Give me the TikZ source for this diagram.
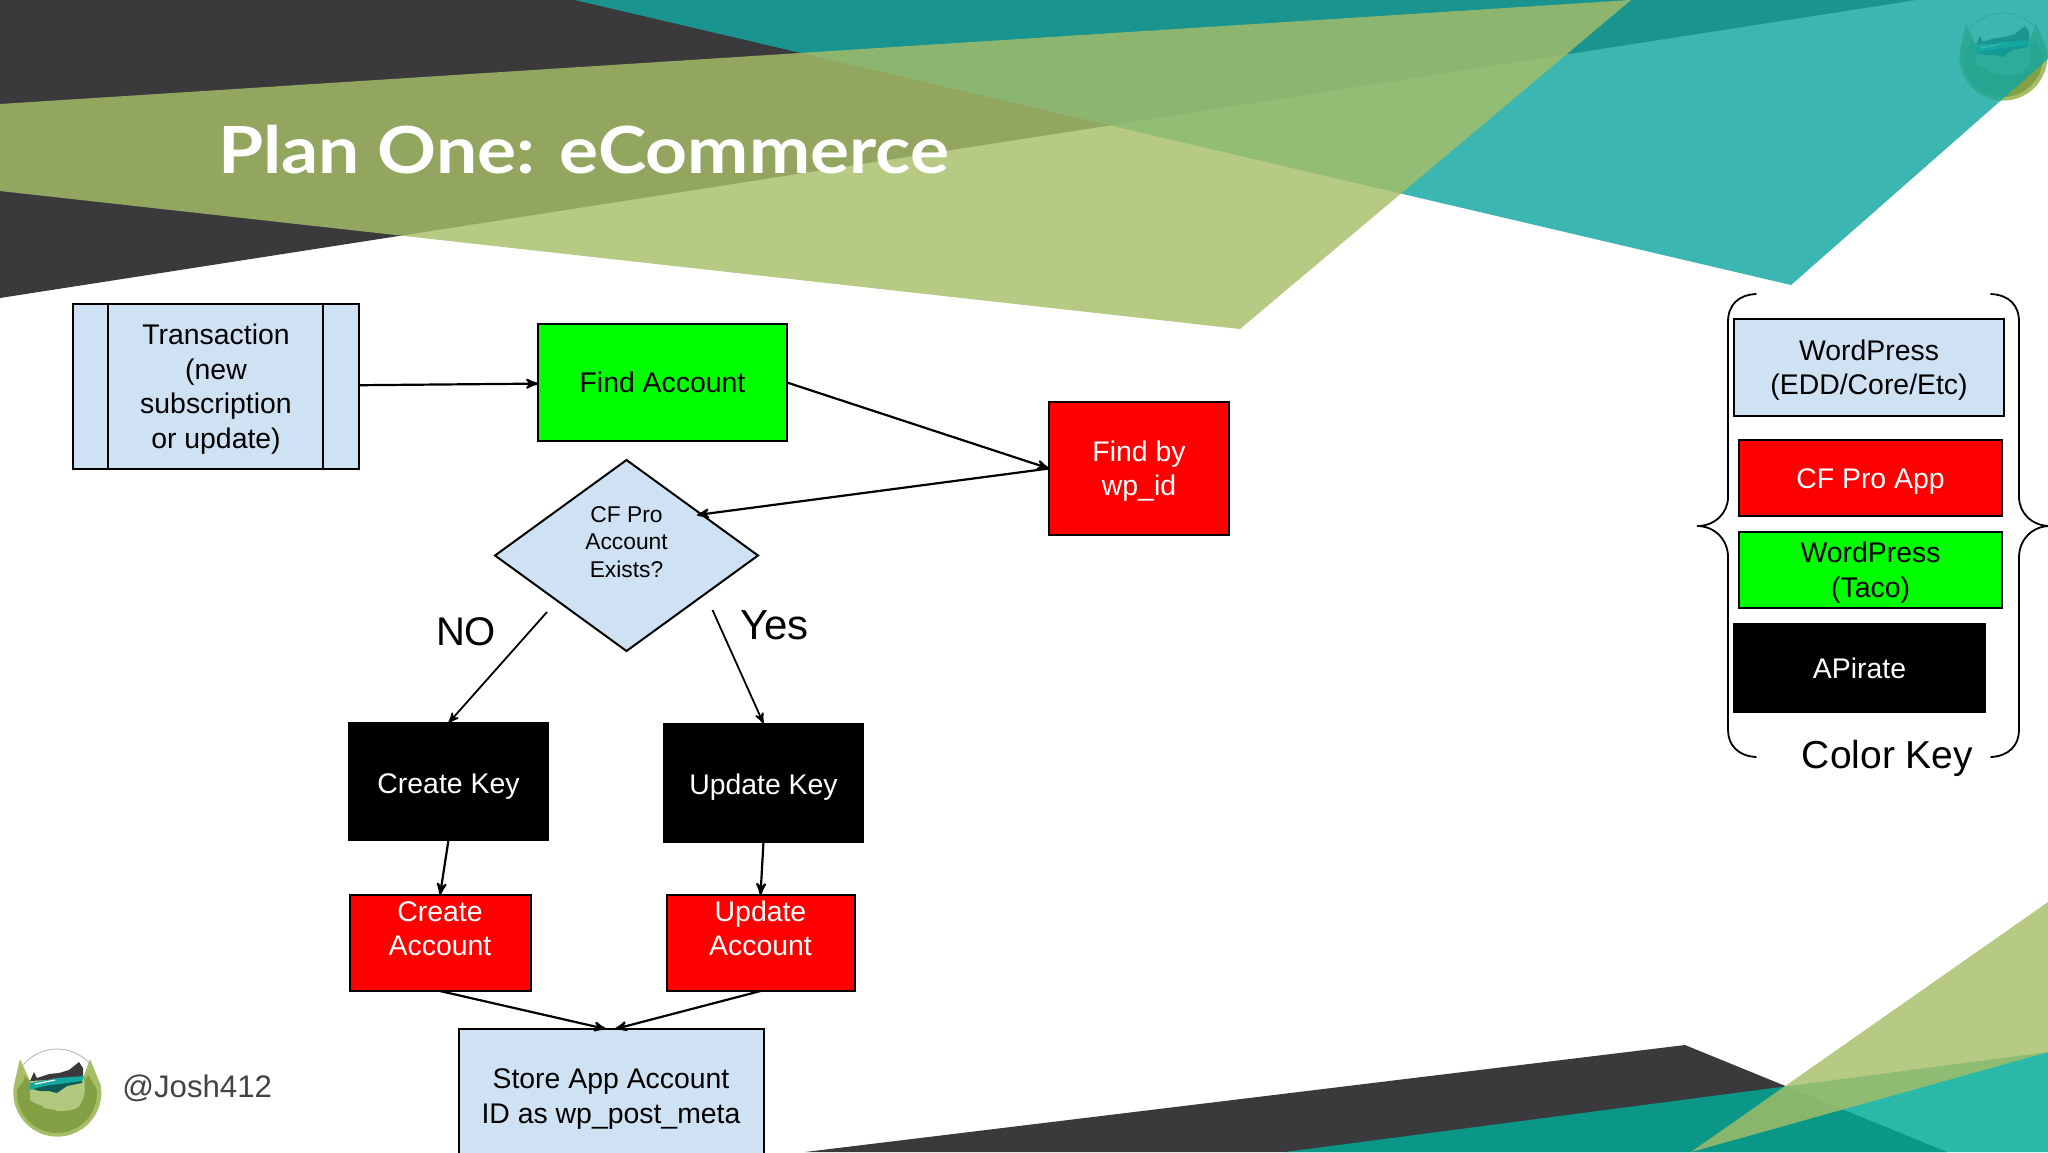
\documentclass[tikz,border=0pt]{standalone}
\usepackage{fontspec}
\setmainfont{Liberation Sans}
\newfontfamily\titlefont{Lato}[FakeStretch=1.125]
\newcommand{\lift}{\rule{0pt}{12.9pt}}
\usetikzlibrary{
	calc,
	arrows,
	positioning,
	shapes.geometric
}
\definecolor{slate}{HTML}{3A3A3C}
\definecolor{teal top}{HTML}{14A7A0}
\definecolor{teal low}{HTML}{01AA97}
\definecolor{olive}{HTML}{A6BE68}
\definecolor{pale blue}{HTML}{CFE2F3}
\definecolor{handle}{HTML}{434343}
\definecolor{moss}{HTML}{84A044}
\definecolor{deep water}{HTML}{0D5C55}
\tikzset{
	josh logo/.pic={
		\fill[olive] (-37,-34) -- (-43,-8) arc[start angle=190,end angle=-10,radius=44] -- (33,-34) -- (25,-12) -- (-27,-12) -- cycle;
		\fill[moss] (-33,-18) .. controls (-30,-10) and (-42,-6) .. (-40,0) arc[start angle=180,end angle=0,radius=40] .. controls (40,-8) and (33,-12) .. (32,-18) -- (25,-12) -- (-27,-12) -- cycle;
		\fill[olive!85!white] (-27,-12) -- (-27,7) .. controls (-20,12) and (-13,12) .. (-13,15) .. controls (-6,17) and (0,16) .. (0,18) .. controls (10,18) and (20,17) .. (23,12) .. controls (27,6) and (27,2) .. (28,-3) -- (27,-17) -- cycle;
		\fill[slate] (-27,-12) -- (-23,-21) -- (-20,-15) -- (-8,-19) -- (2,-20) -- (12,-23) -- (22,-31) -- (26,-25) -- (26,-15) -- cycle;
		\fill[deep water] (-25,-4) -- (-17,-2) -- (-8,-2) -- (0,0) -- (10,-7) -- (25,-10) -- (25,-14) -- (-13,-8) -- cycle;
		\fill[teal top] (-27,-10) -- (-27,-3) -- (-13,-7) -- (25,-12) -- (27,-17) -- (0,-15) -- cycle;
		\draw[white,line width=.6pt] (-22,-9) -- (-2,-13);
		\draw[black!30,line width=.4pt] (-33.7,-28.3) arc[start angle=-140,end angle=-40,radius=44];
	}
}
\begin{document}
\begin{tikzpicture}[x=.5pt,y=-.5pt,
	main node/.style={draw=black,line width=1pt,inner sep=0pt,outer sep=0pt,align=center,font=\fontsize{14.2}{17.3}\selectfont},
	blue node/.style={main node,fill=pale blue,text=black},
	red node/.style={main node,fill=red,text=white},
	green node/.style={main node,fill=green,text=black},
	black node/.style={main node,fill=black,text=white},
	tag/.style={inner sep=0pt,outer sep=0pt,font=\fontsize{20}{24}\selectfont},
	flow/.style={->,>=stealth',line width=1.1pt},
	brace/.style={line width=.9pt,line cap=round}]
	\clip (0,0) rectangle (2048,1152);

	\pic at (2003,57) {josh logo};
	\fill[slate] (0,0) -- (1916,0) -- (0,298) -- cycle;
	\fill[teal top,fill opacity=.83] (575,0) -- (1791,285) -- (2048,59) -- (2048,0) -- cycle;
	\fill[olive,fill opacity=.82] (0,104) -- (1631,0) -- (1240,329) -- (0,191) -- cycle;

	\fill[slate] (805,1152) -- (1685,1045) -- (1947,1152) -- cycle;
	\fill[teal low,fill opacity=.84] (1285,1152) -- (2048,1052) -- (2048,1152) -- cycle;
	\fill[olive,fill opacity=.82] (1691,1152) -- (2048,902) -- (2048,1052) -- cycle;

	\node[anchor=base west,inner sep=0pt,text=white,font=\titlefont\bfseries\fontsize{32.5}{39}\selectfont] (title) at (218,173) {Plan One: eCommerce};

	\node[blue node,minimum width=143pt,minimum height=82.5pt] (trans) at (216,386.5) {\lift Transaction\\(new\\subscription\\or update)};
	\node[green node,minimum width=124.5pt,minimum height=58.5pt] (find) [right = 89.5pt of trans,yshift=2pt] {Find Account};
	\node[red node,minimum width=90pt,minimum height=66.5pt] (wpid) [right = 131pt of find,yshift=-43pt] {\lift Find by\\wp\_id};
	\node[blue node,diamond,aspect=1.377,minimum width=131.5pt,minimum height=95.5pt,font=\fontsize{11.4}{13.8}\selectfont] (exists) [below = 9.5pt of find,xshift=-18pt] {CF Pro\\Account\\Exists?\\\mbox{}};
	\node[black node,minimum width=99.5pt,minimum height=58.5pt,text height=14.5pt] (ckey) [below = 36pt of exists,xshift=-89pt] {Create Key};
	\node[black node,minimum width=99.5pt,minimum height=59pt,text height=14.5pt] (ukey) [right = 58pt of ckey,yshift=-.5pt] {Update Key};
	\node[red node,minimum width=90.5pt,minimum height=48pt] (cacc) [below = 27.5pt of ckey,xshift=-4.25pt] {\lift Create\\Account\\\mbox{}};
	\node[red node,minimum width=94pt,minimum height=48pt] (uacc) [right = 68pt of cacc] {\lift Update\\Account\\\mbox{}};
	\node[blue node,minimum width=152.5pt,minimum height=67pt] (store) [below = 19pt of cacc,xshift=85.5pt] {\lift Store App Account\\ID as wp\_post\_meta};

	\coordinate (no start) at (547,612);
	\coordinate (yes start) at (712.5,610);
	\coordinate (exists in) at (697,515);
	\node[tag] (no) [left = 25.5pt of no start,yshift=-10pt] {NO};
	\node[tag,font=\fontsize{21}{25}\selectfont] (yes) [right = 13.75pt of yes start,yshift=-7.5pt] {Yes};

	\draw[line width=1pt] ([xshift=17.5pt]trans.north west) -- ([xshift=17.5pt]trans.south west);
	\draw[line width=1pt] ([xshift=-18pt]trans.north east) -- ([xshift=-18pt]trans.south east);

	\draw[flow] (trans) -- (find);
	\draw[flow] (find.east) -- (wpid.west);
	\draw[flow] (wpid.west) -- (exists in);
	\draw[flow,line width=.9pt] (no start) -- (ckey.north);
	\draw[flow,line width=.9pt] (yes start) -- (ukey.north);
	\draw[flow] (ckey.south) -- (cacc.north);
	\draw[flow] (ukey.south) -- (uacc.north);
	\draw[flow] (cacc.south) -- ([xshift=-2.5pt]store.north);
	\draw[flow] (uacc.south) -- ([xshift=2pt]store.north);

	\node[blue node,minimum width=135pt,minimum height=48.5pt] (wp key) at (1869,367.5) {\lift WordPress\\(EDD/Core/Etc)};
	\node[red node,minimum width=131.5pt,minimum height=38pt,text height=13pt] (cf key) [below = 12pt of wp key,xshift=.75pt] {CF Pro App};
	\node[green node,minimum width=131.5pt,minimum height=38pt] (taco key) [below = 8pt of cf key] {\lift WordPress\\(Taco)};
	\node[black node,minimum width=125.5pt,minimum height=44pt] (api key) [below = 8pt of taco key,xshift=-5.5pt] {APirate};
	\node[tag,font=\fontsize{19.5}{23}\selectfont] (color key) [below = 14.25pt of api key,xshift=14pt] {Color Key};

	\draw[brace] (1756,294) .. controls (1738,295) and (1728,305) .. (1728,322) -- (1728,497) .. controls (1728,513) and (1715,526) .. (1697,526) .. controls (1715,526) and (1728,540) .. (1728,557) -- (1728,730) .. controls (1728,745) and (1738,756) .. (1756,757);
	\draw[brace] (1991,294) .. controls (2009,295) and (2019,305) .. (2019,322) -- (2019,497) .. controls (2019,513) and (2032,526) .. (2050,526) .. controls (2032,526) and (2019,540) .. (2019,557) -- (2019,730) .. controls (2019,745) and (2009,756) .. (1991,757);

	\pic at (57,1093) {josh logo};
	\node[anchor=west,inner sep=0pt,text=handle,font=\fontsize{15.6}{18}\selectfont] (josh) at (122,1088) {@Josh412};
\end{tikzpicture}
\end{document}
